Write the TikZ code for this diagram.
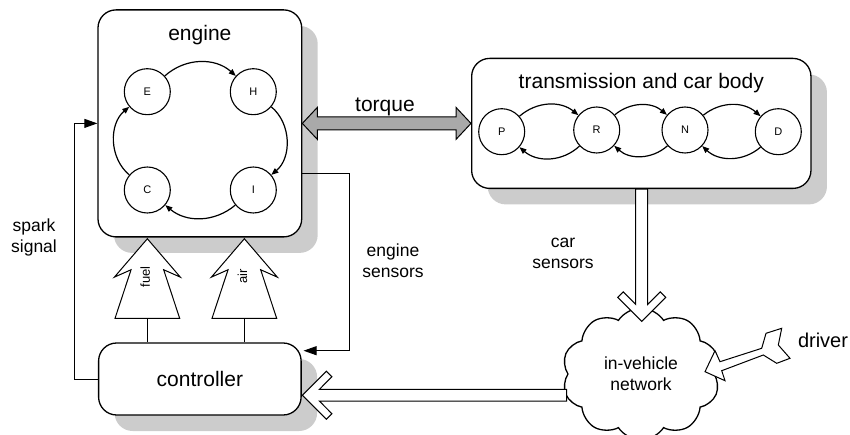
\documentclass[tikz,border=0pt]{standalone}
\usepackage{fontspec}
\setmainfont{Liberation Sans}
\usetikzlibrary{shapes.symbols,arrows.meta,calc,shadows}

\definecolor{shadowgray}{HTML}{CCCCCC}
\definecolor{torquegray}{HTML}{A9A9A9}

\tikzset{
  block/.style={draw, line width=1.3pt, rounded corners=18pt, fill=white,
    drop shadow={shadow xshift=16pt, shadow yshift=-16pt, fill=shadowgray, opacity=1}},
  state/.style={circle, draw, line width=1.1pt, minimum size=46pt, inner sep=0pt,
    font=\fontsize{11}{13}\selectfont},
  move/.style={line width=1.2pt, -{Triangle[length=7pt,width=5.5pt]}},
  bigtext/.style={font=\fontsize{21}{25}\selectfont},
  smalltext/.style={font=\fontsize{17.5}{21}\selectfont, align=center},
  wire/.style={line width=0.9pt},
  wirearrow/.style={wire, -{Triangle[length=13pt,width=9pt]}},
  hollow/.style={draw, fill=white, line width=1pt, line join=miter},
}

% broad white arrow with a chevron head, from #2 to the tip #3
\newcommand\fatarrow[3][6]{%
  \path let \p1=(#2), \p2=(#3), \n1={veclen(\x2-\x1,\y2-\y1)},
    \n2={atan2(\y2-\y1,\x2-\x1)} in
    \pgfextra{\xdef\arrlen{\n1}\xdef\arrang{\n2}};
  \begin{scope}[shift={(#3)}, rotate=\arrang]
    \draw[hollow] (0,0) -- (-24,24) -- (-29.5,18.5) -- (-17,#1) -- (-\arrlen,#1)
      -- (-\arrlen,-#1) -- (-17,-#1) -- (-29.5,-18.5) -- (-24,-24) -- cycle;
  \end{scope}}

% tapered supply arrow pointing up at #1, with label #2 and a stem to the controller
\newcommand\inletarrow[3]{%
  \draw[hollow] (#1) -- ++(-33,-38.4) -- ++(16.7,7.4) -- ++(-16,-48.5) -- ++(64.6,0)
    -- ++(-16,48.5) -- ++(16.7,-7.4) -- cycle;
  \node[rotate=90, font=\fontsize{13}{15}\selectfont] (#3) at ($(#1)+(-2,-38)$) {#2};
  \draw[wire] ($(#1)+(0,-79.5)$) -- (ctrl.north -| #1);}

\begin{document}
\begin{tikzpicture}[x=1pt, y=1pt]
\useasboundingbox (0,0) rectangle (850,-435);
\clip (0,0) rectangle (850,-435);

% main blocks
\node[block, minimum width=203.7pt, minimum height=227pt] (engine) at (199.85,-123.4) {};
\node[bigtext] (enginetitle) at (199.85,-35) {engine};
\node[block, minimum width=339.3pt, minimum height=130pt] (trans) at (641.3,-123.4) {};
\node[bigtext] (transtitle) at (641.3,-83) {transmission and car body};
\node[block, bigtext, minimum width=202.5pt, minimum height=72pt] (ctrl) at (199.85,-379) {controller};

% engine cycle
\node[state] (E) at (147.3,-91.7) {E};
\node[state] (H) at (253.3,-91.7) {H};
\node[state] (C) at (147.3,-190) {C};
\node[state] (I) at (253.3,-190) {I};
\draw[move] (E) to[bend left=42] (H);
\draw[move] (H) to[bend left=50] (I);
\draw[move] (I) to[bend left=40] (C);
\draw[move] (C) to[bend left=50] (E);

% gear selector
\node[state] (P) at (501.7,-131.7) {P};
\node[state] (R) at (596.7,-130) {R};
\node[state] (N) at (685,-130) {N};
\node[state] (D) at (778.3,-131.7) {D};
\draw[move] (P) to[bend left=40] (R);
\draw[move] (R) to[bend left=42] (P);
\draw[move] (R) to[bend left=40] (N);
\draw[move] (N) to[bend left=42] (R);
\draw[move] (N) to[bend left=40] (D);
\draw[move] (D) to[bend left=42] (N);

% torque coupling
\draw[fill=torquegray, line width=1pt, line join=miter]
  (engine.east) -- ++(15,16) -- ++(0,-9.5) -- ($(trans.west)+(-15,6.5)$) -- ++(0,9.5)
  -- (trans.west) -- ++(-15,-16) -- ++(0,9.5) -- ($(engine.east)+(15,-6.5)$)
  -- ++(0,-9.5) -- cycle;
\node[bigtext] (torque) at (385,-106.7) {torque};

% spark signal loop
\draw[wirearrow] (ctrl.west) -- ++(-24,0) |- (engine.west);
\node[smalltext] (spark) at (34,-237) {spark\\signal};

% engine sensors loop
\coordinate (sensout) at ($(engine.east)+(0,-49.9)$);
\coordinate (sensin) at ($(ctrl.east)+(1.8,28.3)$);
\draw[wirearrow] (sensout) -- ++(46.6,0) |- (sensin);
\node[smalltext] (engsens) at (393,-261) {engine\\sensors};

% fuel and air supply
\coordinate (fueltip) at ($(engine.south)+(-52.5,-1.2)$);
\coordinate (airtip) at ($(engine.south)+(44.5,-1.2)$);
\inletarrow{fueltip}{fuel}{fuel}
\inletarrow{airtip}{air}{air}

% in-vehicle network
\node[cloud, draw, line width=1.3pt, cloud puffs=10, cloud puff arc=115, aspect=1.2,
  minimum width=158pt, minimum height=132pt, smalltext] (net) at (641,-374) {in-vehicle\\network};

\node[smalltext] (carsens) at (563,-253) {car\\sensors};
\coordinate (cartip) at ($(net.north)+(0.7,-14)$);
\fatarrow{trans.south -| cartip}{cartip}

\coordinate (ctrltip) at ($(ctrl.east)+(0.6,-16.2)$);
\coordinate (nettail) at ($(ctrl.east)+(264.9,-16.2)$);
\fatarrow[5.8]{nettail}{ctrltip}

% driver input
\coordinate (drvtip) at (705,-371.7);
\begin{scope}[shift={(drvtip)}]
  \draw[hollow] (0,0) -- (10,21) -- (15,10) -- (56.7,23.4) -- (61,38.4) -- (76.7,43.4)
    -- (73.3,26.7) -- (85,13.4) -- (71.7,8.4) -- (58.3,16.7) -- (16.7,1) -- (20,-9) -- cycle;
\end{scope}
\node[font=\fontsize{20}{24}\selectfont] (driver) at (823,-340) {driver};
\end{tikzpicture}
\end{document}
